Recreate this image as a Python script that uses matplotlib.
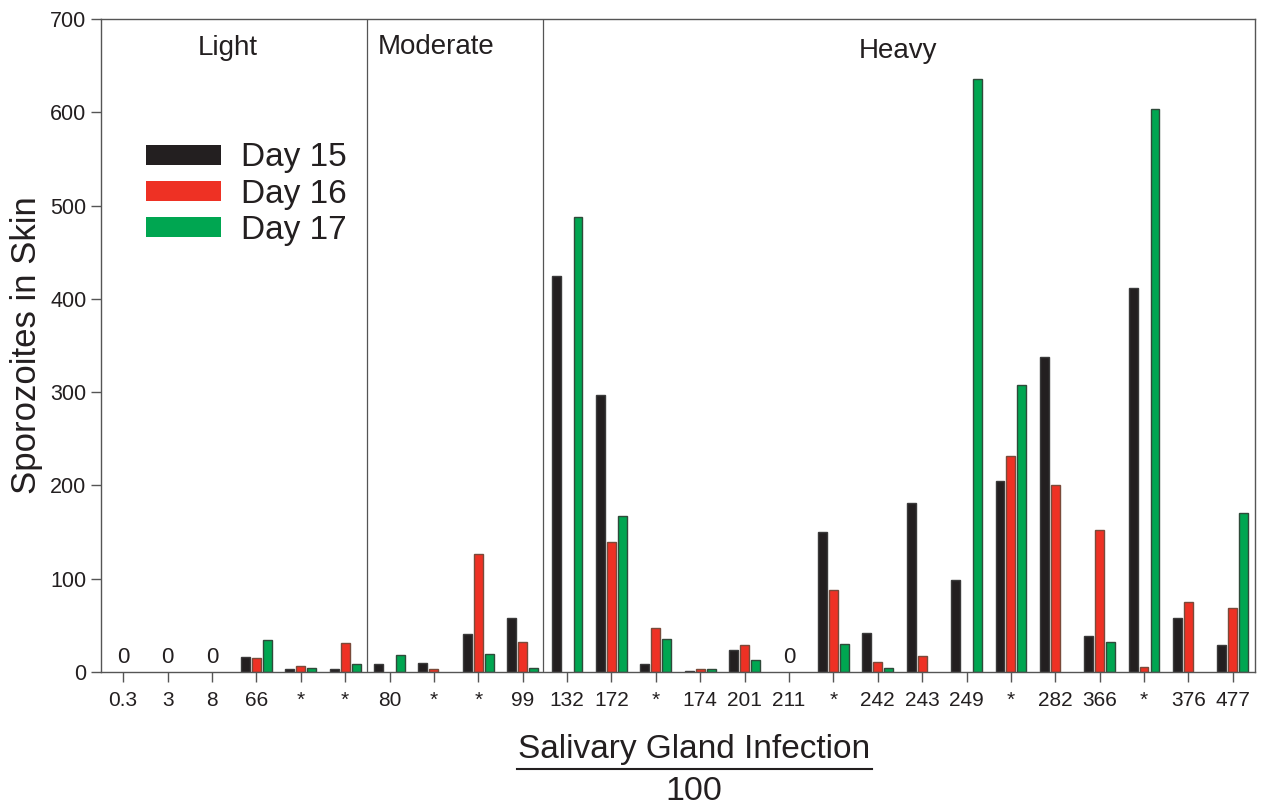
import numpy as np
import matplotlib
matplotlib.use("Agg")
import matplotlib.pyplot as plt
from matplotlib.patches import Patch
from matplotlib.lines import Line2D

plt.rcParams['font.family'] = ['Liberation Sans', 'DejaVu Sans']

# salivary gland infection / 100 (x categories)
labels = ['0.3', '3', '8', '66', '*', '*', '80', '*', '*', '99', '132', '172', '*',
          '174', '201', '211', '*', '242', '243', '249', '*', '282', '366', '*', '376', '477']

# sporozoites in skin, per day (0 = no bar)
day15 = [0, 0, 0, 16, 3.5, 3.5, 9, 10, 41, 57.5, 425, 297, 9,
         1.5, 23.5, 0, 150, 41.5, 181.5, 99, 205, 338, 38.5, 412, 58, 29]
day16 = [0, 0, 0, 15, 6, 31, 0, 3, 127, 32, 0, 139, 47,
         3, 29, 0, 88, 11, 17, 0, 231, 200.5, 152, 5.5, 75.5, 69]
day17 = [0, 0, 0, 34, 4, 8.5, 18, 0, 19.5, 4, 488, 167.5, 35,
         3, 13, 0, 30, 4, 0, 636, 308, 0, 32, 603, 0, 170]

zero_groups = ['0.3', '3', '8', '211']   # groups marked with a "0"
groups = ['Light', 'Moderate', 'Heavy']
group_edges = [5.5, 9.45]

ink = '#231f20'
colors = ['#231f20', '#ee3124', '#00a651']
edges = ['#3a3a3a', '#7a4a3a', '#2f4a3a']

fig = plt.figure(figsize=(12.64, 8.07), dpi=100)
ax = fig.add_axes([0.0799, 0.1673, 0.9130, 0.8092])

x = np.arange(len(labels))
w = 0.2
off = 0.247
for vals, dx, c, ec in zip([day15, day16, day17], [-off, 0, off], colors, edges):
    v = np.array(vals, dtype=float)
    m = v > 0
    ax.bar(x[m] + dx, v[m], width=w, color=c, edgecolor=ec, linewidth=1.0, zorder=2)

for i, lab in enumerate(labels):
    if lab in zero_groups and day15[i] == 0 and day16[i] == 0 and day17[i] == 0:
        ax.text(i, 4, '0', ha='center', va='bottom', fontsize=16, color=ink)

for xe in group_edges:
    ax.axvline(xe, color='#555555', lw=0.9, zorder=1)

ax.text(2.36, 669, groups[0], ha='center', va='center', fontsize=20, color=ink)
ax.text(7.04, 670, groups[1], ha='center', va='center', fontsize=20, color=ink)
ax.text(17.46, 666, groups[2], ha='center', va='center', fontsize=20, color=ink)

ax.set_xlim(-0.5, 25.5)
ax.set_ylim(0, 700)
ax.set_yticks(np.arange(0, 701, 100))
ax.set_xticks(x)
ax.set_xticklabels(labels)
ax.tick_params(axis='both', direction='out', length=7.5, width=1, color='#555555',
               labelsize=15, labelcolor=ink)
ax.tick_params(axis='x', pad=6)
ax.tick_params(axis='y', labelsize=15.5, pad=3)
for s in ax.spines.values():
    s.set_color('#555555')
    s.set_linewidth(1.0)

ax.set_ylabel('Sporozoites in Skin', fontsize=25, color=ink, labelpad=5)

handles = [Patch(facecolor=c, edgecolor='none') for c in colors]
leg = ax.legend(handles, ['Day 15', 'Day 16', 'Day 17'], loc='upper left',
                bbox_to_anchor=(0.013, 0.857), frameon=False, fontsize=24,
                handlelength=2.25, handleheight=0.55, handletextpad=0.6,
                labelspacing=0.16)
for t in leg.get_texts():
    t.set_color(ink)

# x axis title as a fraction
fig.text(0.549, 0.0607, 'Salivary Gland Infection', ha='center', va='baseline',
         fontsize=24, color=ink)
fig.add_artist(Line2D([0.409, 0.690], [0.0471, 0.0471], color=ink, lw=1.5,
                      transform=fig.transFigure))
fig.text(0.549, 0.0087, '100', ha='center', va='baseline', fontsize=24.5, color=ink)

fig.savefig('out.png', dpi=100)
